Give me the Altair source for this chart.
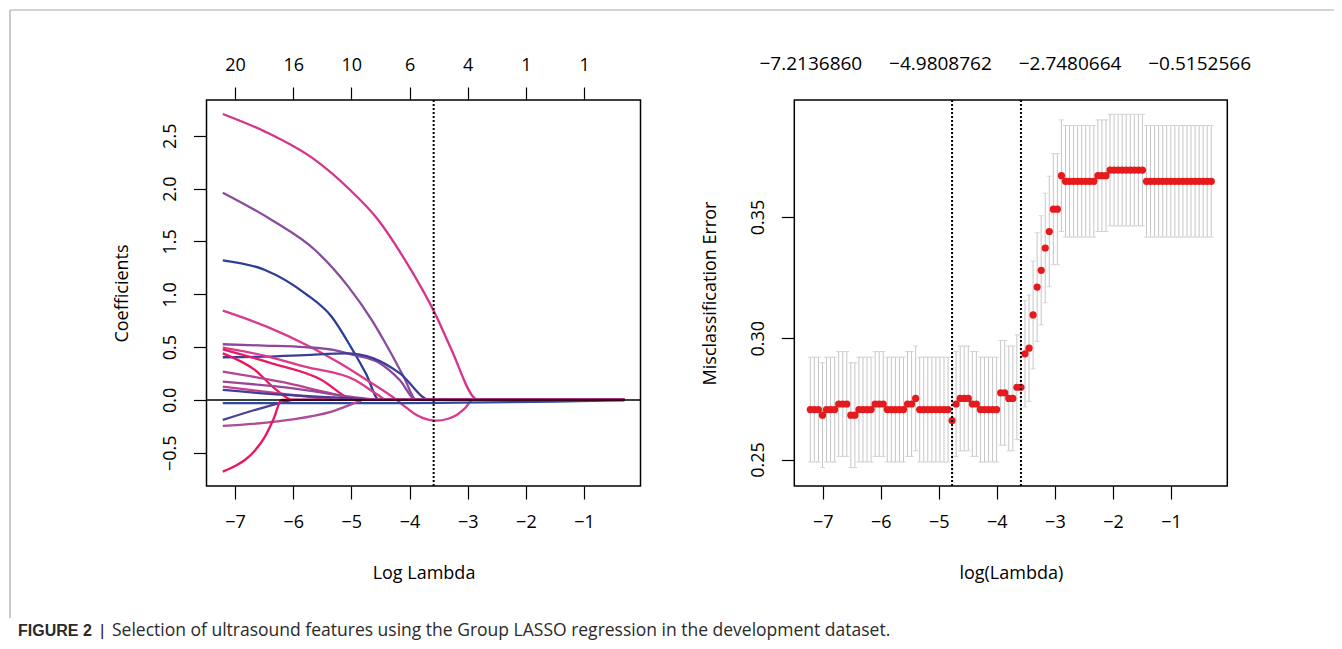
import altair as alt
import pandas as pd

# ---------------- data ----------------
# Left panel: coefficient paths, (log lambda, coefficient)
c01 = [(-7.21, 2.706), (-6.485, 2.539), (-5.625, 2.271), (-5.053, 2.003), (-4.538, 1.703),
       (-4.079, 1.325), (-3.564, 0.820), (-3.277, 0.473), (-2.88, 0.016), (-2.83, 0.0), (-0.306, 0.0)]
c02 = [(-7.21, 1.961), (-6.37, 1.703), (-5.625, 1.419), (-5.053, 1.072), (-4.651, 0.757),
       (-4.366, 0.489), (-4.10, 0.22), (-3.88, 0.0), (-0.306, 0.0)]
c03 = [(-7.21, 1.321), (-6.485, 1.230), (-5.797, 1.009), (-5.339, 0.788), (-4.995, 0.489),
       (-4.75, 0.25), (-4.52, 0.0), (-0.306, 0.0)]
c04 = [(-7.21, 0.845), (-6.455, 0.694), (-5.71, 0.504), (-5.196, 0.347), (-4.737, 0.189),
       (-4.22, 0.0), (-4.05, -0.075), (-3.88, -0.142), (-3.70, -0.183), (-3.53, -0.196),
       (-3.35, -0.180), (-3.19, -0.142), (-3.05, -0.080), (-2.91, 0.0), (-0.306, 0.0)]
c05 = [(-7.21, 0.527), (-6.5, 0.515), (-5.8, 0.500), (-5.31, 0.473), (-4.97, 0.426),
       (-4.51, 0.347), (-4.17, 0.189), (-3.88, 0.0), (-0.306, 0.0)]
c06 = [(-7.21, 0.404), (-6.5, 0.410), (-5.8, 0.425), (-5.08, 0.441), (-4.62, 0.394),
       (-4.165, 0.252), (-3.65, 0.0), (-0.306, 0.0)]
c07 = [(-7.21, 0.495), (-6.5, 0.420), (-5.8, 0.315), (-4.94, 0.189), (-4.54, 0.047),
       (-4.40, 0.0), (-0.306, 0.0)]
c08 = [(-7.21, 0.479), (-6.37, 0.347), (-5.51, 0.189), (-5.05, 0.016), (-4.98, 0.0), (-0.306, 0.0)]
c09 = [(-7.21, 0.441), (-6.66, 0.284), (-6.30, 0.10), (-6.00, 0.0), (-0.306, 0.0)]
c10 = [(-7.21, 0.268), (-6.2, 0.170), (-5.4, 0.070), (-4.8, 0.0), (-0.306, 0.0)]
c11 = [(-7.21, 0.173), (-6.0, 0.110), (-5.0, 0.030), (-4.5, 0.0), (-0.306, 0.0)]
c12 = [(-7.21, 0.126), (-6.2, 0.060), (-5.5, 0.015), (-5.2, 0.0), (-0.306, 0.0)]
c13 = [(-7.21, 0.095), (-6.2, 0.050), (-5.0, 0.015), (-4.5, 0.0), (-0.306, 0.0)]
c14 = [(-7.21, -0.030), (-5.0, -0.030), (-3.5, -0.028), (-1.5, -0.015), (-0.306, -0.003)]
c15 = [(-7.21, -0.189), (-6.66, -0.095), (-6.2, -0.025), (-6.0, 0.0), (-0.306, 0.0)]
c16 = [(-7.21, -0.246), (-6.08, -0.189), (-5.34, -0.110), (-4.88, -0.016), (-4.80, 0.0), (-0.306, 0.0)]
c17 = [(-7.21, -0.678), (-7.0, -0.625), (-6.83, -0.568), (-6.66, -0.48), (-6.485, -0.347),
       (-6.33, -0.17), (-6.2, 0.0), (-0.306, 0.0)]

curve_names = ["c01", "c02", "c03", "c04", "c05", "c06", "c07", "c08", "c09",
               "c10", "c11", "c12", "c13", "c14", "c15", "c16", "c17"]
curve_points = [c01, c02, c03, c04, c05, c06, c07, c08, c09,
                c10, c11, c12, c13, c14, c15, c16, c17]
curve_colors = ["#d6338a", "#8a4b9c", "#2c3d96", "#d93a8c", "#8d479d", "#3b3e97",
                "#db3b8b", "#e61b63", "#ea145a", "#b4448f", "#9b4597", "#c93e8e",
                "#3f3f98", "#2e4aa0", "#4c3f98", "#ad4b96", "#e8175d"]

left_bottom_ticks = [-7, -6, -5, -4, -3, -2, -1]
left_top_labels = ["20", "16", "10", "6", "4", "1", "1"]
left_y_ticks = [-0.5, 0.0, 0.5, 1.0, 1.5, 2.0, 2.5]
left_vline = [-3.5854]

# Right panel: cross-validated misclassification error
log_lambda = [
    -7.2137, -7.1439, -7.0741, -7.0043, -6.9346, -6.8648, -6.7950, -6.7253, -6.6555, -6.5857,
    -6.5159, -6.4462, -6.3764, -6.3066, -6.2368, -6.1671, -6.0973, -6.0275, -5.9577, -5.8880,
    -5.8182, -5.7484, -5.6786, -5.6089, -5.5391, -5.4693, -5.3995, -5.3298, -5.2600, -5.1902,
    -5.1205, -5.0507, -4.9809, -4.9111, -4.8413, -4.7716, -4.7018, -4.6320, -4.5622, -4.4925,
    -4.4227, -4.3529, -4.2831, -4.2134, -4.1436, -4.0738, -4.0040, -3.9343, -3.8645, -3.7947,
    -3.7250, -3.6552, -3.5854, -3.5156, -3.4459, -3.3761, -3.3063, -3.2365, -3.1668, -3.0970,
    -3.0272, -2.9574, -2.8877, -2.8179, -2.7481, -2.6783, -2.6085, -2.5388, -2.4690, -2.3992,
    -2.3294, -2.2597, -2.1899, -2.1201, -2.0504, -1.9806, -1.9108, -1.8410, -1.7713, -1.7015,
    -1.6317, -1.5619, -1.4922, -1.4224, -1.3526, -1.2828, -1.2131, -1.1433, -1.0735, -1.0037,
    -0.9340, -0.8642, -0.7944, -0.7247, -0.6549, -0.5851, -0.5153, -0.4455, -0.3758, -0.3060]
cv_error = ([0.2706] * 3 + [0.2683] + [0.2706] * 3 + [0.2729] * 3 + [0.2683] * 2 +
            [0.2706] * 4 + [0.2729] * 3 + [0.2706] * 5 + [0.2729] * 2 + [0.2752] +
            [0.2706] * 8 + [0.2661] + [0.2729] + [0.2752] * 3 + [0.2729] * 2 +
            [0.2706] * 5 + [0.2775] * 2 + [0.2752] * 2 + [0.2798] * 2 +
            [0.2936, 0.2959, 0.3096, 0.3211, 0.3280, 0.3372, 0.3440, 0.3532, 0.3532, 0.3670] +
            [0.3647] * 8 + [0.3670] * 3 + [0.3693] * 9 + [0.3647] * 17)
cv_se = ([0.0216] * 53 +
         [0.0219, 0.0219, 0.0222, 0.0224, 0.0225, 0.0226, 0.0228, 0.0229, 0.0229, 0.0230] +
         [0.0230] * 37)
right_bottom_ticks = [-7, -6, -5, -4, -3, -2, -1]
right_top_ticks = [-7.2136860, -4.9808762, -2.7480664, -0.5152566]
right_y_ticks = [0.25, 0.30, 0.35]
right_vlines = [-4.7716, -3.5854]

caption_bold = "FIGURE 2"
caption_bar = "|"
caption_text = "Selection of ultrasound features using the Group LASSO regression in the development dataset."

# ---------------- layout (page pixels -> view pixels) ----------------
VW, VH = 1326, 633
OX, OY = 8, 8


def vx(px):
    return px - OX


def vy(py):
    return py - OY


L_X0, L_X1 = 206.5, 640.5
R_X0, R_X1 = 794.3, 1227.3
B_Y0, B_Y1 = 100, 486

FONT = "Open Sans"
FS = 18

rows = []
for name, pts in zip(curve_names, curve_points):
    for k, (xv, yv) in enumerate(pts):
        rows.append({"curve": name, "x": xv, "y": yv, "k": k})
df_paths = pd.DataFrame(rows)

df_cv = pd.DataFrame({"lam": log_lambda, "err": cv_error, "se": cv_se})
df_cv["lo"] = df_cv["err"] - df_cv["se"]
df_cv["hi"] = df_cv["err"] + df_cv["se"]

one = pd.DataFrame({"a": [0]})

axis_style = dict(labelFont=FONT, labelFontSize=FS, labelColor="black",
                  titleFont=FONT, titleFontSize=FS, titleColor="black", titleFontWeight="normal",
                  tickColor="black", tickWidth=1.2, domain=False, grid=False,
                  labelFlush=False, labelOverlap=False)

lx = alt.Scale(domain=[-7.49, -0.03], range=[vx(L_X0), vx(L_X1)], nice=False, zero=False)
ly = alt.Scale(domain=[-0.814, 2.838], range=[vy(B_Y1), vy(B_Y0)], nice=False, zero=False)
rx = alt.Scale(domain=[-7.49, -0.03], range=[vx(R_X0), vx(R_X1)], nice=False, zero=False)
ry = alt.Scale(domain=[0.2391, 0.3982], range=[vy(B_Y1), vy(B_Y0)], nice=False, zero=False)

bottom_off = vy(B_Y1) - VH
x_bottom_axis = dict(orient="bottom", offset=bottom_off, tickSize=13, labelPadding=14,
                     titlePadding=33, format="d", **axis_style)
y_left_axis_common = dict(orient="left", tickSize=13, labelPadding=14, labelAngle=270,
                          labelAlign="center", labelBaseline="bottom", titleAngle=270,
                          titleBaseline="bottom", titlePadding=30, **axis_style)

top_expr = " : ".join(f"datum.value == {v} ? '{lab}'" for v, lab in zip(left_bottom_ticks, left_top_labels)) + " : ''"

# ---- left panel ----
L_XT = "Log Lambda"
L_YT = "Coefficients"
lx_enc_axis = alt.Axis(values=left_bottom_ticks, **x_bottom_axis)
ly_enc_axis = alt.Axis(values=left_y_ticks, format=".1f", offset=-vx(L_X0), **y_left_axis_common)

paths = alt.Chart(df_paths).mark_line(strokeWidth=2.3, interpolate="monotone").encode(
    x=alt.X("x:Q", scale=lx, axis=lx_enc_axis, title=L_XT),
    y=alt.Y("y:Q", scale=ly, axis=ly_enc_axis, title=L_YT),
    color=alt.Color("curve:N", scale=alt.Scale(domain=curve_names, range=curve_colors), legend=None),
    order=alt.Order("k:Q"),
)
zero_line = alt.Chart(pd.DataFrame({"y": [0.0]})).mark_rule(color="black", strokeWidth=1.6).encode(
    y=alt.Y("y:Q", scale=ly, title=L_YT),
    x=alt.value(vx(L_X0)), x2=alt.value(vx(L_X1)),
)
lvline = alt.Chart(pd.DataFrame({"x": left_vline})).mark_rule(
    color="black", strokeWidth=2, strokeDash=[2, 2]).encode(
    x=alt.X("x:Q", scale=lx, title=L_XT),
    y=alt.value(vy(B_Y0)), y2=alt.value(vy(B_Y1)),
)
left_top = alt.Chart(pd.DataFrame({"x": left_bottom_ticks})).mark_point(opacity=0).encode(
    x=alt.X("x:Q", scale=lx, title=None,
            axis=alt.Axis(orient="top", offset=-vy(B_Y0), values=left_bottom_ticks, tickSize=13,
                          labelPadding=13, labelExpr=top_expr, **axis_style)),
    y=alt.value(vy(B_Y0) + 5),
)
left = alt.layer(alt.layer(paths, zero_line, lvline), left_top).resolve_scale(x="independent")

# ---- right panel ----
R_XT = "log(Lambda)"
R_YT = "Misclassification Error"
rx_axis = alt.Axis(values=right_bottom_ticks, **x_bottom_axis)
ry_axis = alt.Axis(values=right_y_ticks, format=".2f", offset=-vx(R_X0), **y_left_axis_common)

bars = alt.Chart(df_cv).mark_rule(color="#c6c6c6", strokeWidth=1).encode(
    x=alt.X("lam:Q", scale=rx, axis=rx_axis, title=R_XT),
    y=alt.Y("lo:Q", scale=ry, axis=ry_axis, title=R_YT),
    y2="hi:Q",
)
cap_lo = alt.Chart(df_cv).mark_tick(color="#c6c6c6", orient="horizontal", size=5, thickness=1).encode(
    x=alt.X("lam:Q", scale=rx, title=R_XT), y=alt.Y("lo:Q", scale=ry, title=R_YT))
cap_hi = alt.Chart(df_cv).mark_tick(color="#c6c6c6", orient="horizontal", size=5, thickness=1).encode(
    x=alt.X("lam:Q", scale=rx, title=R_XT), y=alt.Y("hi:Q", scale=ry, title=R_YT))
dots = alt.Chart(df_cv).mark_circle(size=52, color="#e41a1c", opacity=1).encode(
    x=alt.X("lam:Q", scale=rx, title=R_XT), y=alt.Y("err:Q", scale=ry, title=R_YT))
rvlines = alt.Chart(pd.DataFrame({"lam": right_vlines})).mark_rule(
    color="black", strokeWidth=2, strokeDash=[2, 2]).encode(
    x=alt.X("lam:Q", scale=rx, title=R_XT),
    y=alt.value(vy(B_Y0)), y2=alt.value(vy(B_Y1)),
)
right_top = alt.Chart(pd.DataFrame({"lam": right_top_ticks})).mark_point(opacity=0).encode(
    x=alt.X("lam:Q", scale=rx, title=None,
            axis=alt.Axis(orient="top", offset=-vy(B_Y0), values=right_top_ticks, ticks=False,
                          tickSize=0, labelPadding=27, format=".7f", labelFontSize=19,
                          **{k: v for k, v in axis_style.items() if k != "labelFontSize"})),
    y=alt.value(vy(B_Y0) + 5),
)
right = alt.layer(alt.layer(bars, cap_lo, cap_hi, dots, rvlines), right_top).resolve_scale(x="independent")

# ---- frames, figure border, caption ----
def frame(x0, x1):
    return alt.Chart(one).mark_rect(fillOpacity=0, stroke="black", strokeWidth=1.5).encode(
        x=alt.value(vx(x0)), x2=alt.value(vx(x1)), y=alt.value(vy(B_Y0)), y2=alt.value(vy(B_Y1)))


border_top = alt.Chart(one).mark_rule(color="#a8a8a8", strokeWidth=1.2).encode(
    x=alt.value(vx(10)), x2=alt.value(VW), y=alt.value(vy(10)))
border_left = alt.Chart(one).mark_rule(color="#a8a8a8", strokeWidth=1.2).encode(
    x=alt.value(vx(10)), y=alt.value(vy(10)), y2=alt.value(vy(618)))

CAP_Y = 635.5
cap1 = alt.Chart(pd.DataFrame({"t": [caption_bold]})).mark_text(
    font="Liberation Sans", fontSize=16, fontWeight="bold", color="#2a2a2a",
    align="left", baseline="alphabetic").encode(
    text="t:N", x=alt.value(vx(18)), y=alt.value(vy(CAP_Y)))
cap2 = alt.Chart(pd.DataFrame({"t": [caption_bar]})).mark_text(
    font="Liberation Sans", fontSize=17, color="#2a2a2a", align="left", baseline="alphabetic").encode(
    text="t:N", x=alt.value(vx(100)), y=alt.value(vy(CAP_Y)))
cap3 = alt.Chart(pd.DataFrame({"t": [caption_text]})).mark_text(
    font="Open Sans", fontSize=17.5, color="#2a2a2a", align="left", baseline="alphabetic").encode(
    text="t:N", x=alt.value(vx(112)), y=alt.value(vy(CAP_Y)))

chart = alt.layer(
    left, right, frame(L_X0, L_X1), frame(R_X0, R_X1), border_top, border_left, cap1, cap2, cap3
).resolve_scale(x="independent", y="independent").properties(
    width=VW, height=VH, autosize=alt.AutoSizeParams(type="none"), padding=0,
    background="white",
).configure_view(strokeWidth=0)

chart.save("out.html", embed_options={"renderer": "svg", "actions": False})
